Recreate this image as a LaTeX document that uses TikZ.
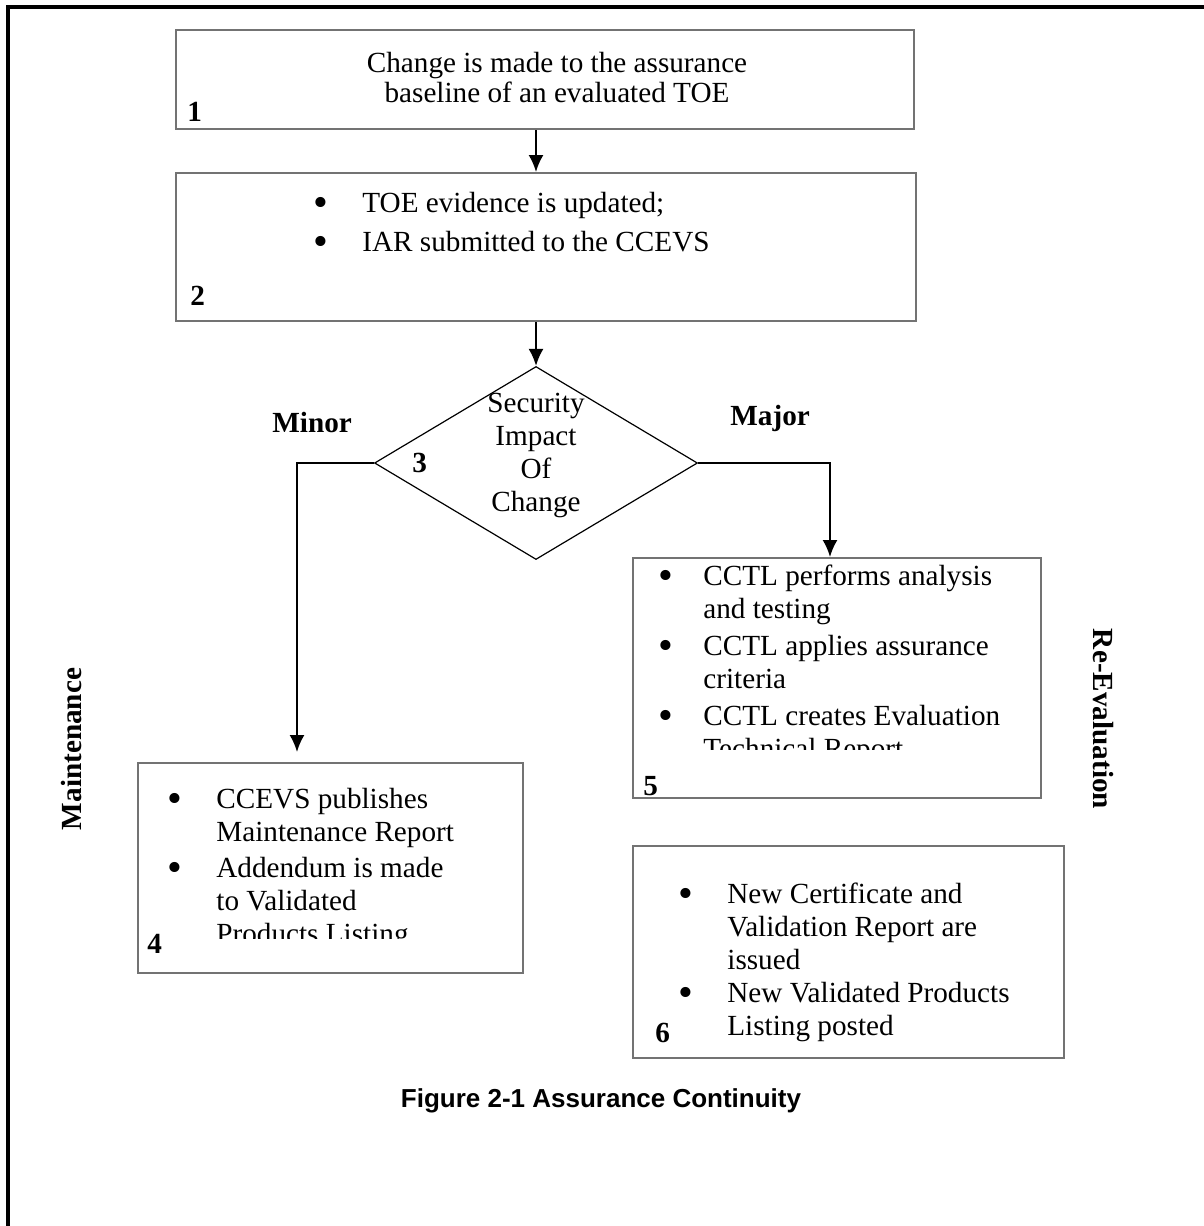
\documentclass[tikz,border=0pt]{standalone}
\usepackage{fontspec}
\usepackage{graphicx}
\setmainfont{Liberation Serif}
\newfontfamily\capfont{Liberation Sans}
\usetikzlibrary{calc,positioning,arrows.meta,shapes.geometric}
\tikzset{
  stepbox/.style={
    draw=black!55,
    line width=1pt,
    rectangle,
    inner sep=0pt,
    anchor=north west
  },
  decision/.style={
    draw,
    diamond,
    line width=0.6pt,
    inner sep=0pt
  },
  flow/.style={line width=1pt,-{Latex[length=8.5pt,width=7.5pt]}},
  numlabel/.style={font=\fontsize{14.6}{16.5}\selectfont\bfseries,anchor=base west,inner sep=0pt},
  bullets/.style={anchor=base west,inner sep=0pt},
  sidelabel/.style={font=\fontsize{14.6}{16.5}\selectfont\bfseries,inner sep=0pt}
}
\newcommand{\bl}{\raisebox{-0.14em}{\scalebox{1.45}{\textbullet}}}

\begin{document}
\begin{tikzpicture}[x=0.5pt,y=-0.5pt,font=\fontsize{14.6}{16.5}\selectfont]
		\useasboundingbox (0,0) rectangle (1204,1226);
		\draw[line width=2pt] (8,1240) -- (8,7) -- (1220,7);
		% boxes
		\node[stepbox,minimum width=369pt,minimum height=49.5pt] (b1) at (175,29) {};
		\node[stepbox,minimum width=370pt,minimum height=74pt] (b2) at (175,172) {};
		\node[decision,minimum width=161.5pt,minimum height=96.5pt] (dia) at (536,463) {};
		\node[stepbox,minimum width=192.5pt,minimum height=105pt] (b4) at (137,762) {};
		\node[stepbox,minimum width=204pt,minimum height=120pt] (b5) at (632,557) {};
		\node[stepbox,minimum width=215.5pt,minimum height=106pt] (b6) at (632,845) {};
		% texts
		\node[anchor=base,inner sep=0pt] (t1) at (557,72) {\begin{tabular}[t]{@{}c@{}}Change is made to the assurance\\[-1.5pt] baseline of an evaluated TOE\end{tabular}};
		\node[bullets] (t2) at (313,212) {\begin{tabular}[t]{@{}p{24.5pt}@{}l@{}}
			\bl & TOE evidence is updated;\\[3pt]
			\bl & IAR submitted to the CCEVS
		\end{tabular}};
		\node[anchor=base,inner sep=0pt] (t3) at (536,412) {\begin{tabular}[t]{@{}c@{}}Security\\ Impact\\ Of\\ Change\end{tabular}};
		\begin{scope}
			\clip (b4.north west) rectangle (522,938);
			\node[bullets] (t4) at (167,808) {\begin{tabular}[t]{@{}p{24.5pt}@{}l@{}}
				\bl & CCEVS publishes\\
				    & Maintenance Report\\[1.5pt]
				\bl & Addendum is made\\
				    & to Validated\\
				    & Products Listing
			\end{tabular}};
		\end{scope}
		\begin{scope}
			\clip (b5.north west) rectangle (1040,749);
			\node[bullets] (t5) at (658,585) {\begin{tabular}[t]{@{}p{22.5pt}@{}l@{}}
				\bl & CCTL performs analysis\\
				    & and testing\\[2pt]
				\bl & CCTL applies assurance\\
				    & criteria\\[2pt]
				\bl & CCTL creates Evaluation\\
				    & Technical Report
			\end{tabular}};
		\end{scope}
		\node[bullets] (t6) at (678,903) {\begin{tabular}[t]{@{}p{24.5pt}@{}l@{}}
			\bl & New Certificate and\\
			    & Validation Report are\\
			    & issued\\
			\bl & New Validated Products\\
			    & Listing posted
		\end{tabular}};
		\foreach \n/\x/\y in {1/187/121,2/190/305,3/412/472,4/147/953,5/643/795,6/655/1042} {
			\node[numlabel] (n\n) at (\x,\y) {\n};
		}
		\node[numlabel] (minor) at (272,432) {Minor};
		\node[numlabel] (major) at (730,425) {Major};
		\node[sidelabel,rotate=90] (maint) at (72,749) {Maintenance};
		\node[sidelabel,rotate=-90] (reeval) at (1103,719) {Re-Evaluation};
		\node[anchor=base,inner sep=0pt,font=\capfont\bfseries\fontsize{13}{15}\selectfont] (cap) at (601,1107) {Figure 2-1 Assurance Continuity};
		% connectors
		\coordinate (minortip) at (297,752);
		\coordinate (majortip) at (830,557);
		\draw[flow] (b1.south -| dia.north) -- (b2.north -| dia.north);
		\draw[flow] (b2.south -| dia.north) -- (dia.north);
		\draw[flow] (dia.west) -| (minortip);
		\draw[flow] (dia.east) -| (majortip);
	\end{tikzpicture}
\end{document}
